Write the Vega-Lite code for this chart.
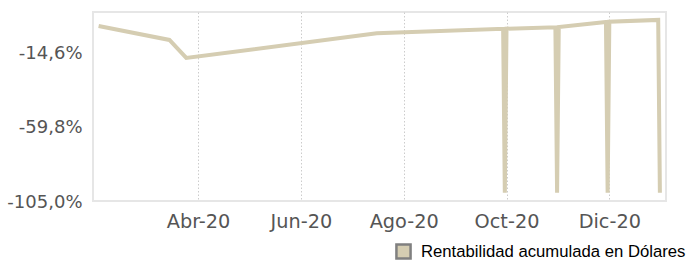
{
  "$schema": "https://vega.github.io/schema/vega-lite/v6.json",
  "autosize": {"type": "none"},
  "width": 573,
  "height": 189,
  "padding": {"left": 93, "top": 12, "right": 23, "bottom": 60},
  "background": "white",
  "data": {
    "values": [
      {"date": "2020/02/02", "value": 0.9, "serie": "Rentabilidad acumulada en Dólares"},
      {"date": "2020/03/15", "value": -7.5, "serie": "Rentabilidad acumulada en Dólares"},
      {"date": "2020/03/25", "value": -18.4, "serie": "Rentabilidad acumulada en Dólares"},
      {"date": "2020/07/16", "value": -3.5, "serie": "Rentabilidad acumulada en Dólares"},
      {"date": "2020/09/29", "value": -0.8, "serie": "Rentabilidad acumulada en Dólares"},
      {"date": "2020/09/30", "value": -100, "serie": "Rentabilidad acumulada en Dólares"},
      {"date": "2020/10/01", "value": -0.7, "serie": "Rentabilidad acumulada en Dólares"},
      {"date": "2020/10/30", "value": 0.2, "serie": "Rentabilidad acumulada en Dólares"},
      {"date": "2020/10/31", "value": -100, "serie": "Rentabilidad acumulada en Dólares"},
      {"date": "2020/11/01", "value": 0.3, "serie": "Rentabilidad acumulada en Dólares"},
      {"date": "2020/11/29", "value": 3.4, "serie": "Rentabilidad acumulada en Dólares"},
      {"date": "2020/11/30", "value": -100, "serie": "Rentabilidad acumulada en Dólares"},
      {"date": "2020/12/01", "value": 3.5, "serie": "Rentabilidad acumulada en Dólares"},
      {"date": "2020/12/30", "value": 4.6, "serie": "Rentabilidad acumulada en Dólares"},
      {"date": "2020/12/31", "value": -100, "serie": "Rentabilidad acumulada en Dólares"}
    ]
  },
  "layer": [
    {
      "mark": {"type": "line", "strokeWidth": 4, "color": "#d5cdb2"},
      "encoding": {
        "x": {
          "field": "date",
          "type": "temporal",
          "scale": {
            "domain": [
              {"year": 2020, "month": 1, "date": 29, "hours": 16},
              {"year": 2021, "month": 1, "date": 3, "hours": 15}
            ],
            "nice": false
          },
          "axis": {
            "title": null,
            "values": [
              {"year": 2020, "month": 4, "date": 1},
              {"year": 2020, "month": 6, "date": 1},
              {"year": 2020, "month": 8, "date": 1},
              {"year": 2020, "month": 10, "date": 1},
              {"year": 2020, "month": 12, "date": 1}
            ],
            "labelExpr": "['Ene','Feb','Mar','Abr','May','Jun','Jul','Ago','Sep','Oct','Nov','Dic'][month(datum.value)] + '-' + timeFormat(datum.value, '%y')",
            "domain": false,
            "ticks": false,
            "tickSize": 0,
            "labelPadding": 11,
            "labelFont": "DejaVu Sans",
            "labelFontSize": 19.3,
            "labelColor": "#555555",
            "labelFlush": false,
            "labelOverlap": false,
            "grid": true,
            "gridColor": "#cccccc",
            "gridDash": [1.5, 2],
            "gridWidth": 1
          }
        },
        "y": {
          "field": "value",
          "type": "quantitative",
          "scale": {"domain": [-105, 9.4], "nice": false, "zero": false},
          "axis": {
            "title": null,
            "values": [-105, -59.8, -14.6],
            "labelExpr": "(datum.value < 0 ? '-' : '') + replace(format(abs(datum.value), '.1f'), '.', ',') + '%'",
            "domain": false,
            "ticks": false,
            "tickSize": 0,
            "labelPadding": 11,
            "labelFont": "DejaVu Sans",
            "labelFontSize": 18,
            "labelColor": "#555555",
            "labelOffset": 1.5,
            "labelFlush": false,
            "labelOverlap": false,
            "grid": false
          }
        }
      }
    },
    {
      "transform": [{"filter": "false"}],
      "mark": {"type": "point", "shape": "square", "filled": true, "opacity": 1, "stroke": "#808080", "strokeWidth": 2.5, "strokeOpacity": 1, "fillOpacity": 1, "size": 200},
      "encoding": {
        "fill": {
          "field": "serie",
          "type": "nominal",
          "scale": {"domain": ["Rentabilidad acumulada en Dólares"], "range": ["#d5cdb2"]},
          "legend": {
            "title": null,
            "orient": "none",
            "legendX": 302,
            "legendY": 231,
            "padding": 0,
            "symbolType": "square",
            "symbolSize": 200,
            "symbolOpacity": 1,
            "symbolStrokeWidth": 2.5,
            "symbolStrokeColor": "#808080",
            "labelFont": "Liberation Sans",
            "labelFontSize": 16.7,
            "labelColor": "#000000",
            "labelOffset": 9,
            "labelLimit": 400,
            "encode": {
              "symbols": {
                "update": {
                  "stroke": {"value": "#808080"},
                  "strokeWidth": {"value": 2.5},
                  "strokeOpacity": {"value": 1},
                  "opacity": {"value": 1}
                }
              }
            }
          }
        }
      }
    }
  ],
  "config": {
    "view": {"stroke": "#e6e6e6", "strokeWidth": 2}
  }
}
